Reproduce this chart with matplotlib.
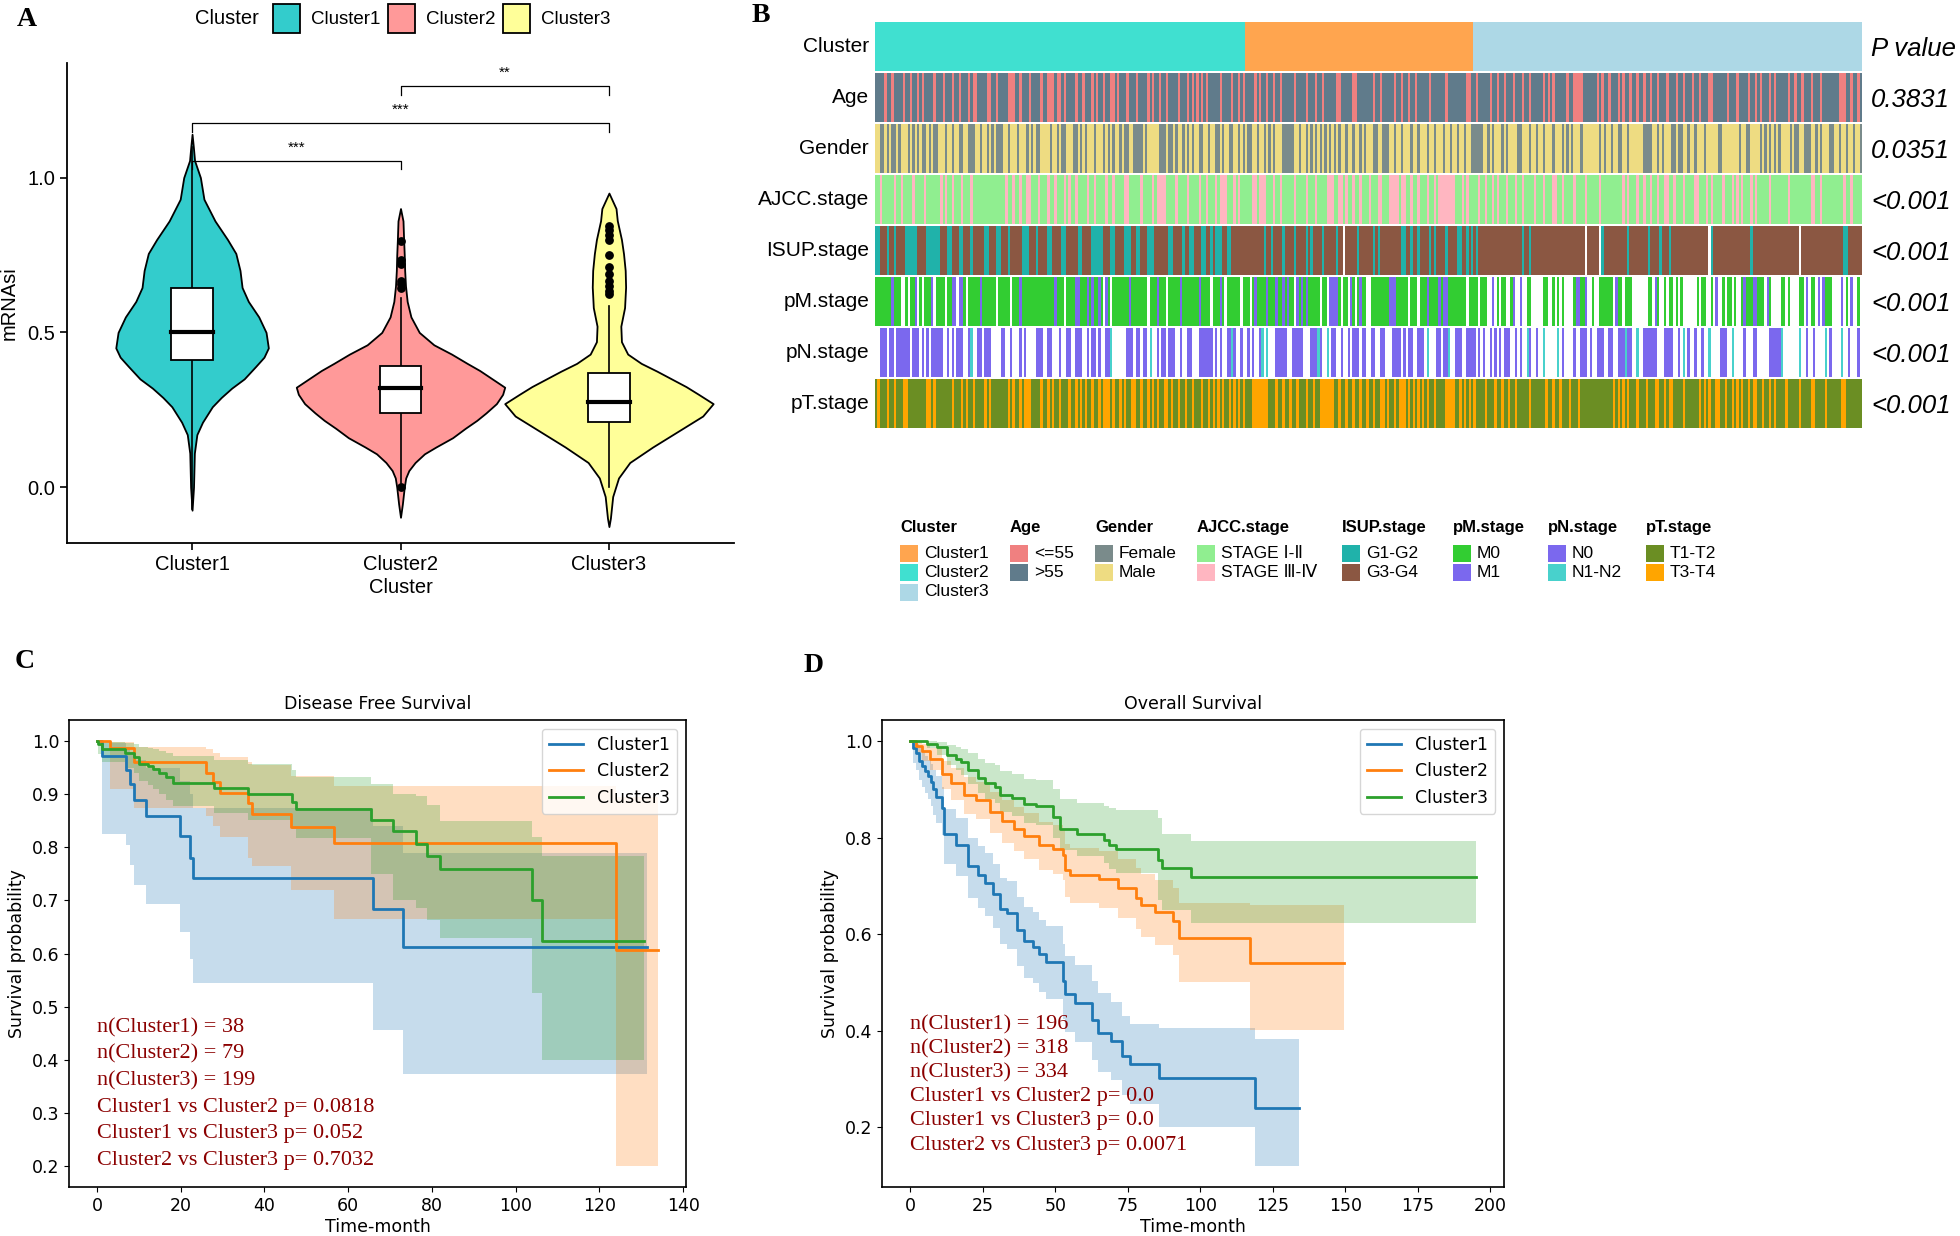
import numpy as np
import matplotlib.pyplot as plt
from matplotlib.colors import ListedColormap
from matplotlib.patches import Rectangle

W, H = 1960, 1236

# ---------------- panel A : mRNAsi by cluster ----------------
clusters = ["Cluster1", "Cluster2", "Cluster3"]
violin_colors = ["#33CCCC", "#FF9999", "#FFFF99"]

# violin outlines (y value, half width)
v1_y = [1.14, 1.10, 1.055, 1.0, 0.93, 0.86, 0.80, 0.755, 0.70, 0.645, 0.60, 0.55, 0.50, 0.45,
        0.42, 0.39, 0.35, 0.32, 0.29, 0.26, 0.21, 0.17, 0.11, 0.0, -0.074]
v1_w = [0.0, 0.006, 0.012, 0.04, 0.057, 0.11, 0.17, 0.21, 0.23, 0.24, 0.27, 0.32, 0.355, 0.366,
        0.345, 0.305, 0.25, 0.19, 0.14, 0.097, 0.05, 0.023, 0.011, 0.007, 0.0]
v2_y = [0.90, 0.86, 0.80, 0.75, 0.70, 0.65, 0.60, 0.55, 0.50, 0.46, 0.43, 0.40, 0.377, 0.35, 0.323,
        0.30, 0.27, 0.24, 0.216, 0.19, 0.16, 0.13, 0.108, 0.08, 0.054, 0.03, 0.0, -0.054, -0.097]
v2_w = [0.0, 0.012, 0.015, 0.018, 0.02, 0.024, 0.032, 0.05, 0.09, 0.16, 0.245, 0.32, 0.38, 0.44, 0.50,
        0.49, 0.46, 0.41, 0.366, 0.31, 0.25, 0.17, 0.115, 0.07, 0.04, 0.025, 0.018, 0.009, 0.0]
v3_y = [0.95, 0.90, 0.861, 0.80, 0.754, 0.70, 0.646, 0.58, 0.52, 0.47, 0.43, 0.40, 0.375, 0.35,
        0.325, 0.30, 0.27, 0.23, 0.18, 0.13, 0.08, 0.03, -0.03, -0.10, -0.127]
v3_w = [0.0, 0.034, 0.04, 0.06, 0.07, 0.078, 0.08, 0.075, 0.057, 0.06, 0.09, 0.155, 0.23, 0.30,
        0.37, 0.43, 0.50, 0.45, 0.33, 0.21, 0.10, 0.046, 0.018, 0.007, 0.0]

box_q1 = [0.41, 0.24, 0.21]
box_med = [0.50, 0.32, 0.275]
box_q3 = [0.645, 0.39, 0.37]
whisk_lo = [-0.07, 0.015, 0.0]
whisk_hi = [1.10, 0.61, 0.585]
outliers2 = [0.0, 0.645, 0.655, 0.665, 0.72, 0.735, 0.795]
outliers3 = [0.625, 0.635, 0.65, 0.665, 0.69, 0.71, 0.75, 0.80, 0.815, 0.83, 0.845]

sig_pairs = [(1, 2), (1, 3), (2, 3)]
sig_labels = ["***", "***", "**"]
sig_heights = [1.055, 1.175, 1.295]

# ---------------- panel B : clinical heatmap ----------------
heat_cluster_order = ["Cluster2", "Cluster1", "Cluster3"]
heat_cluster_n = [318, 196, 334]
cluster_colors = {"Cluster1": "#FFA54F", "Cluster2": "#40E0D0", "Cluster3": "#ADD8E6"}

row_labels = ["Cluster", "Age", "Gender", "AJCC.stage", "ISUP.stage", "pM.stage", "pN.stage", "pT.stage"]
p_values = ["P value", "0.3831", "0.0351", "<0.001", "<0.001", "<0.001", "<0.001", "<0.001"]

age_codes = "".join((
    "0000100100 0010010010 1000010001 0001001000 1011000011 0010000111 0010001000 0100111011 0100001001 0001010010 011010",
    "0010001000 0101001001 0000100010 1010101000 0010000100 1010000101 0010010010 0000100001 0001001000 0011000001 100000",
    "0010010000 0100100100 1000001000 0001000000 0011001000 0010010010 0010001001 0000010101 0000010011 1100000010 100100",
    "0101001001 0010010010 0010001001 0001001000 1100000010 0010000100 1010001010 0000100100 1000100010 0000001110 010010",
)).replace(" ", "")
gender_codes = "".join((
    "0011010110 1000101010 1101011000 1001001100 1110010010 1011100100 0100010101 1000010010 1100011010 1000100010 101001",
    "0110011110 1000001110 1101001010 1001100100 1101001100 1010110010 0101010001 1111001001 0101010101 0101001001 001010",
    "0011001110 0100100010 0100010010 0010010010 0100111110 0101000101 0000110001 0010010001 0001010100 0100000001 010010",
    "0110010000 0011110010 1000110110 0100100010 0000110000 0001001100 0010101010 1000010110 0111001010 0011001001 001001",
)).replace(" ", "")
ajcc_codes = "".join((
    "0010000010 0100001000 0100000010 1001000100 0100000000 0000001001 0010011000 1000100100 0101001000 0100100001 001000",
    "0110000010 0001011110 0001000010 0001001000 1011100010 1000001101 1100010010 0000100001 0001000011 1001101001 001000",
    "1000110001 1110110010 0100010010 1111111000 1010000100 1001010001 0001001000 0100010001 1001000010 0001000001 000000",
    "0001010001 0010010010 0110010001 0000110001 0100001000 1010100010 1000001000 0000100000 0000110010 0000000010 010000",
)).replace(" ", "")
isup_codes = "".join((
    "0011101101 1110000011 1100000011 1001110011 1011111001 1100111011 1110001110 1111001111 0011111001 1110000011 100111",
    "1000110011 1000111111 0011110110 0111001101 0001100111 1111111111 1011011110 1111011110 1011110111 11011-1111 101111",
    "1101011111 1111001101 1011110101 1110111100 1101010111 1111111111 1111110110 1111111111 1111111111 111-11111- 011111",
    "1111101111 1111011110 1110111111 1111111111 -011111111 1111111101 1111111111 111111111- 1111111111 1111111100 111111",
)).replace(" ", "")
pm_codes = "".join((
    "0000000100 0--0-001-0 -0001-0000 -0011-110- 0000010000 00-00000-0 0010000000 0000000100 0-00001100 01010010-1 0-0000",
    "0001000000 0-0001000- 0000010000 00010000-0 0010-00000 0-000-0100 0010001001 0100-10101 00000-00-1 1110-00-10 -0100-",
    "-000000001 1100000-00 0-00010000 1011000000 00-0000-00 0--1-0-00- -01--1--00 -----00--0 -0-0----01 1001--0--0 00000-",
    "100-000--- ----00-10- -0-00-0-0- -----0-00- -0-1--0-00 -0--010001 1000-10--- -00-0----0 0-1-00-1-1 000----1-0 -1--0-",
)).replace(" ", "")
pn_codes = "".join((
    "--000-00-0 00000-000- 0-0-00000- -0-0-000-- 01--00-000 ----00--0- --0-0----0 00--00---0 --00--000- -0-00-0--0 01----",
    "--000-00-0 0-1--0-00- 000--0--00 ---000000- 0-0--0010- -0--0-0--0 1-1---0000 0--00000-- -00010--1- 00--0--0-0 00-00-",
    "-00--00--- 0000-0-00- -000-1---0 0-001--000 --0000-0-0 --0-0-0-00 0--0-0--10 --0--1---- -1-0----0- -000-0--00 0--00-",
    "-000100--1 --000000-- -0000--0-1 -0--0--0-- 1----000-- 1----0---0 0-----0000 01-------1 --0--0---- 1-0----1-- 0---0-",
)).replace(" ", "")
pt_codes = "".join((
    "0100010010 0011000000 0011010000 0001000101 0010000101 0000000101 0010111000 0100101001 0001001010 1001001011 101001",
    "0100110010 0101010011 0100100100 1000100101 0101001010 1010001111 1110001001 0010010001 0010011111 1001001001 001001",
    "0010011010 0101110101 0101010010 0001111001 0101010000 1000100100 1001000001 0000001001 0010001000 1000000000 000001",
    "0101010001 0001000110 0101100001 0000001010 1001100100 1010100101 1001001010 0001000001 0000110000 1000000110 000000",
)).replace(" ", "")

# code -> (legend label, colour), in legend order; '-' is a missing value
age_pal = {"1": ("<=55", "#F08080"), "0": (">55", "#607B8B")}
gender_pal = {"1": ("Female", "#7A8B8B"), "0": ("Male", "#EEDC82")}
ajcc_pal = {"0": ("STAGE Ⅰ-Ⅱ", "#90EE90"), "1": ("STAGE Ⅲ-Ⅳ", "#FFB6C1")}
isup_pal = {"0": ("G1-G2", "#20B2AA"), "1": ("G3-G4", "#8B5742")}
pm_pal = {"0": ("M0", "#32CD32"), "1": ("M1", "#7B68EE")}
pn_pal = {"0": ("N0", "#7B68EE"), "1": ("N1-N2", "#48D1CC")}
pt_pal = {"0": ("T1-T2", "#6B8E23"), "1": ("T3-T4", "#FFA500")}

# ---------------- panels C / D : Kaplan-Meier ----------------
km_colors = ["#1f77b4", "#ff7f0e", "#2ca02c"]

dfs_t1 = [0, 1.1, 7.0, 7.8, 8.9, 11.7, 19.8, 22.2, 22.9, 66.0, 73.1, 131.3]
dfs_s1 = [1.0, 0.973, 0.946, 0.919, 0.889, 0.860, 0.821, 0.780, 0.743, 0.683, 0.612, 0.612]
dfs_hi1 = [1.0, 0.996, 0.99, 0.98, 0.965, 0.95, 0.925, 0.90, 0.875, 0.84, 0.79, 0.79]
dfs_lo1 = [1.0, 0.826, 0.804, 0.766, 0.73, 0.694, 0.64, 0.589, 0.544, 0.456, 0.373, 0.373]
dfs_t2 = [0, 3.2, 8.9, 26.0, 27.6, 29.4, 36.1, 37.0, 46.4, 56.5, 123.9, 134.0]
dfs_s2 = [1.0, 0.987, 0.960, 0.941, 0.923, 0.903, 0.883, 0.862, 0.838, 0.809, 0.607, 0.607]
dfs_hi2 = [1.0, 0.999, 0.99, 0.985, 0.977, 0.97, 0.96, 0.955, 0.935, 0.915, 0.895, 0.858]
dfs_lo2 = [1.0, 0.91, 0.875, 0.86, 0.84, 0.82, 0.78, 0.765, 0.72, 0.665, 0.20, 0.20]
dfs_t3 = [0, 0.2, 1.1, 6.7, 8.9, 10.0, 12.2, 13.3, 14.9, 16.5, 18.2, 28.0, 36.1, 46.5, 47.6, 65.5,
          70.6, 76.2, 78.9, 82.0, 103.8, 106.3, 130.6]
dfs_s3 = [1.0, 0.995, 0.985, 0.978, 0.97, 0.958, 0.953, 0.947, 0.94, 0.932, 0.922, 0.911, 0.900,
          0.886, 0.872, 0.852, 0.830, 0.807, 0.784, 0.760, 0.700, 0.623, 0.623]
dfs_hi3 = [1.0, 1.0, 0.999, 0.997, 0.994, 0.99, 0.988, 0.985, 0.982, 0.978, 0.972, 0.965, 0.958,
           0.945, 0.932, 0.92, 0.90, 0.897, 0.88, 0.849, 0.82, 0.784, 0.784]
dfs_lo3 = [1.0, 0.975, 0.96, 0.95, 0.94, 0.925, 0.918, 0.91, 0.90, 0.89, 0.878, 0.865, 0.852,
           0.835, 0.818, 0.75, 0.70, 0.685, 0.664, 0.63, 0.525, 0.40, 0.40]

os_t1 = [0, 1, 2, 3, 4, 5, 6, 7, 8, 9, 10.9, 11.7, 15.9, 20.0, 23.4, 25.9, 28.4, 30.9, 33.4, 36.8,
         39.3, 42.3, 44.3, 46.8, 52.6, 53.5, 56.8, 62.7, 64.7, 69.3, 73.0, 75.7, 85.7, 119.0, 134.0]
os_s1 = [1.0, 0.985, 0.975, 0.96, 0.948, 0.938, 0.928, 0.915, 0.9, 0.885, 0.862, 0.808, 0.784, 0.741,
         0.722, 0.706, 0.683, 0.652, 0.644, 0.609, 0.586, 0.574, 0.558, 0.543, 0.504, 0.477, 0.457,
         0.422, 0.396, 0.379, 0.348, 0.33, 0.301, 0.24, 0.24]
os_hi1 = [1.0, 1.0, 0.995, 0.988, 0.978, 0.97, 0.962, 0.952, 0.94, 0.928, 0.905, 0.86, 0.84, 0.8,
          0.782, 0.768, 0.745, 0.717, 0.71, 0.677, 0.656, 0.645, 0.63, 0.616, 0.58, 0.555, 0.536,
          0.502, 0.478, 0.46, 0.43, 0.414, 0.406, 0.382, 0.382]
os_lo1 = [1.0, 0.955, 0.94, 0.92, 0.905, 0.892, 0.88, 0.865, 0.848, 0.83, 0.805, 0.745, 0.72, 0.675,
          0.655, 0.637, 0.612, 0.58, 0.57, 0.535, 0.51, 0.498, 0.48, 0.465, 0.425, 0.397, 0.377,
          0.34, 0.315, 0.297, 0.266, 0.248, 0.2, 0.12, 0.12]
os_t2 = [0, 2, 4.2, 6.7, 10.9, 14.2, 18.4, 22.6, 27.6, 31.7, 35.9, 39.3, 44.3, 49.3, 52.6, 53.5,
         55.1, 65.2, 71.8, 77.7, 79.4, 84.4, 90.7, 92.7, 117.0, 149.5]
os_s2 = [1.0, 0.99, 0.979, 0.963, 0.932, 0.913, 0.889, 0.878, 0.854, 0.835, 0.819, 0.804, 0.784,
         0.776, 0.765, 0.734, 0.722, 0.714, 0.695, 0.675, 0.66, 0.646, 0.628, 0.593, 0.54, 0.54]
os_hi2 = [1.0, 1.0, 0.995, 0.985, 0.96, 0.945, 0.925, 0.915, 0.895, 0.878, 0.864, 0.851, 0.833,
          0.826, 0.816, 0.788, 0.778, 0.772, 0.755, 0.738, 0.725, 0.712, 0.696, 0.665, 0.66, 0.66]
os_lo2 = [1.0, 0.975, 0.96, 0.94, 0.9, 0.878, 0.85, 0.838, 0.81, 0.789, 0.772, 0.755, 0.733, 0.724,
          0.712, 0.678, 0.665, 0.655, 0.634, 0.61, 0.594, 0.578, 0.556, 0.5, 0.402, 0.402]
os_t3 = [0, 5.8, 9.2, 12.5, 15.9, 17.5, 20.0, 23.4, 25.9, 29.2, 30.9, 35.0, 39.3, 43.4, 49.3, 51.8,
         57.6, 66.8, 68.5, 71.0, 85.5, 86.9, 96.9, 195.0]
os_s3 = [1.0, 0.995, 0.988, 0.971, 0.963, 0.956, 0.94, 0.924, 0.913, 0.905, 0.889, 0.882, 0.87,
         0.866, 0.843, 0.819, 0.808, 0.796, 0.784, 0.776, 0.753, 0.737, 0.718, 0.718]
os_hi3 = [1.0, 1.0, 0.999, 0.993, 0.988, 0.984, 0.975, 0.963, 0.955, 0.95, 0.938, 0.932, 0.922,
          0.919, 0.9, 0.88, 0.872, 0.865, 0.862, 0.857, 0.84, 0.808, 0.794, 0.794]
os_lo3 = [1.0, 0.985, 0.972, 0.95, 0.94, 0.93, 0.912, 0.893, 0.88, 0.871, 0.853, 0.845, 0.831,
          0.826, 0.8, 0.775, 0.762, 0.748, 0.735, 0.726, 0.67, 0.65, 0.623, 0.623]

dfs_notes = ["n(Cluster1) = 38", "n(Cluster2) = 79", "n(Cluster3) = 199",
             "Cluster1 vs Cluster2 p= 0.0818", "Cluster1 vs Cluster3 p= 0.052",
             "Cluster2 vs Cluster3 p= 0.7032"]
os_notes = ["n(Cluster1) = 196", "n(Cluster2) = 318", "n(Cluster3) = 334",
            "Cluster1 vs Cluster2 p= 0.0", "Cluster1 vs Cluster3 p= 0.0",
            "Cluster2 vs Cluster3 p= 0.0071"]


def fig_rect(x0, y0, x1, y1):
    """pixel box (top-left origin) -> figure fraction rect"""
    return [x0 / W, 1 - y1 / H, (x1 - x0) / W, (y1 - y0) / H]


def fig_xy(x, y):
    return x / W, 1 - y / H


def plot_violins(fig):
    ax = fig.add_axes(fig_rect(67, 63, 734, 543))
    profiles = [(v1_y, v1_w), (v2_y, v2_w), (v3_y, v3_w)]
    for i, (vy, vw) in enumerate(profiles):
        pos = i + 1
        vy, vw = np.array(vy), np.array(vw)
        ax.fill_betweenx(vy, pos - vw, pos + vw, facecolor=violin_colors[i],
                         edgecolor="black", linewidth=1.3, zorder=2)
        ax.plot([pos, pos], [whisk_lo[i], box_q1[i]], color="black", lw=1.2, zorder=2.5)
        ax.plot([pos, pos], [box_q3[i], whisk_hi[i]], color="black", lw=1.2, zorder=2.5)
        ax.add_patch(Rectangle((pos - 0.1, box_q1[i]), 0.2, box_q3[i] - box_q1[i],
                               facecolor="white", edgecolor="black", lw=1.3, zorder=3))
        ax.plot([pos - 0.1, pos + 0.1], [box_med[i]] * 2, color="black", lw=3, zorder=4)
    ax.scatter([2] * len(outliers2), outliers2, s=28, color="black", zorder=5)
    ax.scatter([3] * len(outliers3), outliers3, s=28, color="black", zorder=5)

    for (a, b), lab, h in zip(sig_pairs, sig_labels, sig_heights):
        ax.plot([a, a, b, b], [h - 0.028, h, h, h - 0.028], color="black", lw=0.9)
        ax.text((a + b) / 2, h + 0.02, lab, ha="center", va="bottom", fontsize=11)

    ax.set_xlim(0.4, 3.6)
    ax.set_ylim(-0.18, 1.37)
    ax.set_xticks([1, 2, 3])
    ax.set_xticklabels(clusters)
    ax.set_yticks([0, 0.5, 1.0])
    ax.set_yticklabels(["0.0", "0.5", "1.0"])
    for s in ["top", "right"]:
        ax.spines[s].set_visible(False)
    for s in ["left", "bottom"]:
        ax.spines[s].set_linewidth(1.3)
    ax.tick_params(labelsize=14.5, length=5, width=1.2, colors="black")
    ax.set_xlabel("Cluster", fontsize=14.5, labelpad=3)
    ax.set_ylabel("mRNAsi", fontsize=14.5, labelpad=6)

    # legend on top
    fig.text(*fig_xy(195, 19), "Cluster", fontsize=14.5, va="center")
    for i, x0 in enumerate([273, 388, 503]):
        fig.add_artist(Rectangle(fig_xy(x0, 33), 27 / W, 29 / H, transform=fig.transFigure,
                                 facecolor=violin_colors[i], edgecolor="black", lw=1.3))
        fig.text(*fig_xy(x0 + 38, 19), clusters[i], fontsize=13.5, va="center")


def draw_row(ax, codes, colours, row):
    keys = list(colours)
    idx = np.array([keys.index(c) for c in codes])
    edges = np.linspace(0, 1, len(idx) + 1)
    ax.pcolormesh(edges, [row + 0.025, row + 0.975], idx[None, :],
                  cmap=ListedColormap([colours[k] for k in keys]),
                  vmin=-0.5, vmax=len(keys) - 0.5, shading="flat", antialiased=False)


def plot_heatmap(fig):
    ax = fig.add_axes(fig_rect(875, 21, 1862, 429))
    cl_codes = "".join(c[-1] * n for c, n in zip(heat_cluster_order, heat_cluster_n))
    draw_row(ax, cl_codes, {k[-1]: v for k, v in cluster_colors.items()}, 0)
    rows = [(age_codes, age_pal), (gender_codes, gender_pal), (ajcc_codes, ajcc_pal),
            (isup_codes, isup_pal), (pm_codes, pm_pal), (pn_codes, pn_pal), (pt_codes, pt_pal)]
    for r, (codes, pal) in enumerate(rows, start=1):
        colours = {k: v[1] for k, v in pal.items()}
        colours["-"] = "white"
        draw_row(ax, codes, colours, r)
    ax.set_xlim(0, 1)
    ax.set_ylim(8, 0)
    ax.axis("off")
    for r, (lab, p) in enumerate(zip(row_labels, p_values)):
        ax.text(-0.006, r + 0.5, lab, ha="right", va="center", fontsize=15)
        ax.text(1.009, r + 0.55, p, ha="left", va="center", fontsize=18.5, style="italic")

    # legend underneath
    groups = [("Cluster", [(c, cluster_colors[c]) for c in clusters])]
    for title, pal in [("Age", age_pal), ("Gender", gender_pal), ("AJCC.stage", ajcc_pal),
                       ("ISUP.stage", isup_pal), ("pM.stage", pm_pal), ("pN.stage", pn_pal),
                       ("pT.stage", pt_pal)]:
        groups.append((title, list(pal.values())))
    col_x = [900, 1010, 1095, 1197, 1342, 1453, 1548, 1646]
    for x0, (title, items) in zip(col_x, groups):
        fig.text(*fig_xy(x0, 527), title, fontsize=12, weight="bold", va="center")
        for j, (lab, col) in enumerate(items):
            yc = 553 + 19.5 * j
            fig.add_artist(Rectangle(fig_xy(x0, yc + 8.5), 18 / W, 17 / H,
                                     transform=fig.transFigure, facecolor=col, lw=0))
            fig.text(*fig_xy(x0 + 24, yc), lab, fontsize=12.5, va="center",
                     family=["Liberation Sans", "DejaVu Sans"])


def plot_km(fig, rect, curves, title, notes, note_top):
    ax = fig.add_axes(rect)
    for (t, s, hi, lo), col, lab in zip(curves, km_colors, clusters):
        ax.fill_between(t, lo, hi, step="post", color=col, alpha=0.25, lw=0)
        ax.step(t, s, where="post", color=col, lw=2, label=lab)
    ax.margins(0.05)
    ax.set_title(title, fontsize=12.5, pad=8)
    ax.set_xlabel("Time-month", fontsize=12.5, labelpad=2)
    ax.set_ylabel("Survival probability", fontsize=12.5)
    ax.tick_params(labelsize=12.5)
    for sp in ax.spines.values():
        sp.set_linewidth(1.2)
    ax.legend(loc="upper right", fontsize=12.5)
    for i, line in enumerate(notes):
        ax.text(0, note_top - 0.05 * i, line, color="#8B0000", fontsize=16,
                family="Liberation Serif", va="center")
    return ax


def main():
    plt.rcParams["font.family"] = ["Liberation Sans", "DejaVu Sans"]
    fig = plt.figure(figsize=(W / 100, H / 100), dpi=100)

    plot_violins(fig)
    plot_heatmap(fig)

    plt.rcParams["font.family"] = ["DejaVu Sans"]
    dfs = [(dfs_t1, dfs_s1, dfs_hi1, dfs_lo1), (dfs_t2, dfs_s2, dfs_hi2, dfs_lo2),
           (dfs_t3, dfs_s3, dfs_hi3, dfs_lo3)]
    ax_c = plot_km(fig, fig_rect(69, 720, 686, 1187), dfs, "Disease Free Survival", dfs_notes, 0.46)
    ax_c.set_xticks(range(0, 141, 20))
    osv = [(os_t1, os_s1, os_hi1, os_lo1), (os_t2, os_s2, os_hi2, os_lo2),
           (os_t3, os_s3, os_hi3, os_lo3)]
    ax_d = plot_km(fig, fig_rect(882, 720, 1504, 1187), osv, "Overall Survival", os_notes, 0.413)
    ax_d.set_xticks(range(0, 201, 25))

    for lab, (x, y) in zip("ABCD", [(17, 19), (752, 16), (15, 662), (804, 666)]):
        fig.text(*fig_xy(x, y), lab, fontsize=20, weight="bold", family="Liberation Serif",
                 va="center")

    fig.savefig("out.png", dpi=100)


if __name__ == "__main__":
    main()
